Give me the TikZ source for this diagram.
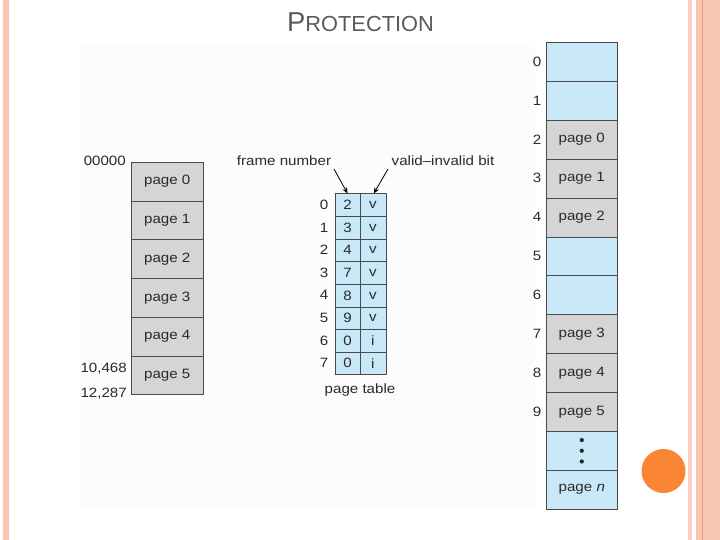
\documentclass[tikz,border=0pt]{standalone}
\usepackage{fontspec}
\usetikzlibrary{arrows.meta}
\setmainfont{Liberation Sans}
\newfontfamily\figfont[FakeStretch=1.12]{Liberation Sans}
\definecolor{pblue}{HTML}{C8E8F8}
\definecolor{pgray}{HTML}{D5D5D5}
\definecolor{edge}{HTML}{4A4A4A}
\definecolor{txt}{HTML}{2A2A2A}
\definecolor{salmon}{HTML}{FAC7B3}
\definecolor{salmonlt}{HTML}{FBD0C0}
\definecolor{salmonln}{HTML}{EC9A78}
\definecolor{titlegray}{HTML}{5A5A5A}
\definecolor{dotor}{HTML}{FA8534}
\definecolor{figbg}{HTML}{FCFCFC}
\begin{document}
\begin{tikzpicture}[x=1pt,y=-1pt,
  ftxt/.style={font=\figfont\fontsize{13.5}{15}\selectfont, text=txt, inner sep=0pt},
  cell/.style={ftxt, draw=edge, line width=0.6pt, anchor=north west},
  lcell/.style={cell, fill=pgray, minimum width=72pt, minimum height=38.7pt},
  rblue/.style={cell, fill=pblue, minimum width=71pt, minimum height=38.9pt},
  rgray/.style={cell, fill=pgray, minimum width=71pt, minimum height=38.9pt},
  fcell/.style={cell, fill=pblue, minimum width=24.5pt, minimum height=22.6pt},
  vcell/.style={cell, fill=pblue, minimum width=26pt, minimum height=22.6pt},
  arr/.style={-{Stealth[length=6pt,width=5pt]}, line width=0.8pt, draw=black}
]
\useasboundingbox (0,0) rectangle (720,540);
% slide decoration
\fill[salmon] (3,0) rectangle (9,540);
\fill[salmonlt] (688,0) rectangle (692,540);
\fill[salmon] (696,0) rectangle (720,540);
\fill[salmonln] (702,0) rectangle (703.2,540);
\fill[figbg] (80,42) rectangle (535,508);
\node[dotor, fill=dotor, circle, minimum size=44pt, inner sep=0pt] (dot) at (663.5,471) {};
% title
\node[anchor=base, text=titlegray, inner sep=0pt] (title) at (360.5,32)
  {\fontsize{27.4}{30}\selectfont P\fontsize{21.8}{24}\selectfont ROTECTION};
% logical memory
\foreach \i in {0,...,5}{
  \node[lcell] (L\i) at (131,{162+38.7*\i}) {page \i};
}
\node[ftxt, anchor=east] (a0) at (126,161) {00000};
\node[ftxt, anchor=east] (a1) at (127,369) {10,468};
\node[ftxt, anchor=east] (a2) at (127,394) {12,287};
% page table
\foreach \i/\f/\v in {0/2/v,1/3/v,2/4/v,3/7/v,4/8/v,5/9/v,6/0/i,7/0/i}{
  \node[fcell] (F\i) at (335,{193.5+22.6*\i}) {\f};
  \node[vcell] (V\i) at (359.5,{193.5+22.6*\i}) {\v};
  \node[ftxt] (R\i) at (324,{204.8+22.6*\i}) {\i};
}
\node[ftxt] (pt) at (360,390) {page table};
\node[ftxt] (fn) at (284,161) {frame number};
\node[ftxt] (vib) at (443,161) {valid–invalid bit};
\coordinate (fnt) at (334,169);
\coordinate (vit) at (388,169);
\draw[arr] (fnt) -- (F0.north);
\draw[arr] (vit) -- ([xshift=1pt]V0.north);
% physical memory
\foreach \i/\s/\t in {0/rblue/{},1/rblue/{},2/rgray/{page 0},3/rgray/{page 1},4/rgray/{page 2},5/rblue/{},6/rblue/{},7/rgray/{page 3},8/rgray/{page 4},9/rgray/{page 5}}{
  \node[\s] (P\i) at (546,{42+38.9*\i}) {\t};
  \node[ftxt] (N\i) at (537,{61.5+38.9*\i}) {\i};
}
\node[rblue] (P10) at (546,{42+38.9*10}) {};
\node[rblue] (P11) at (546,{42+38.9*11}) {page \textit{n}};
\foreach \k in {-10.7,0,10.7}{
  \fill[black!85] ([yshift=\k pt]P10.center) circle (2.1pt);
}
\draw[edge, line width=1.2pt] (P0.north east) -- (P11.south east) -- (P11.south west);
\end{tikzpicture}
\end{document}
